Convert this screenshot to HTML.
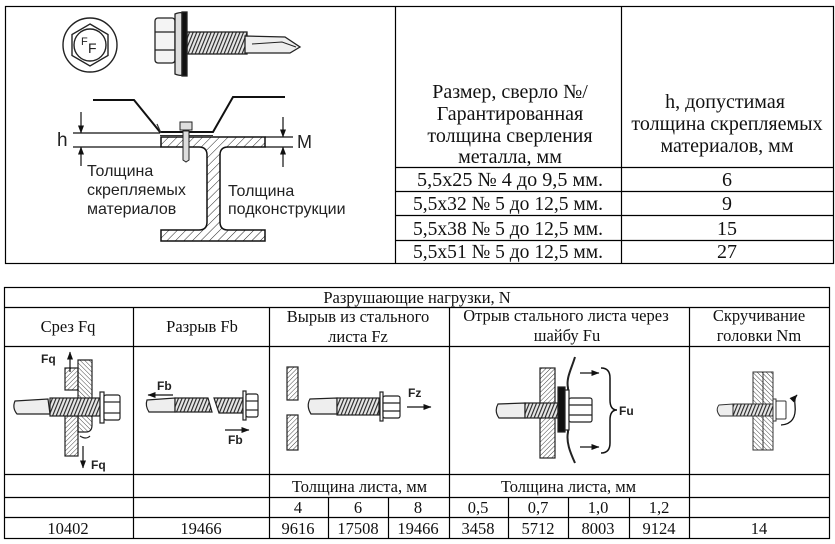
<!DOCTYPE html>
<html><head><meta charset="utf-8"><style>
html,body{margin:0;padding:0;background:#fff;}
svg{display:block;}
.s{font-family:"Liberation Serif","DejaVu Serif",serif;font-size:16.5px;fill:#111;}
.st{font-family:"Liberation Serif","DejaVu Serif",serif;font-size:20px;fill:#111;}
.a{font-family:"Liberation Sans","DejaVu Sans",sans-serif;fill:#222;}
.b{font-family:"Liberation Sans","DejaVu Sans",sans-serif;font-weight:bold;font-size:12px;fill:#222;}
</style></head><body>
<svg width="835" height="544" viewBox="0 0 835 544" xmlns="http://www.w3.org/2000/svg">
<defs>
<pattern id="hb" width="6" height="6" patternUnits="userSpaceOnUse" patternTransform="rotate(45)"><line x1="0" y1="0" x2="0" y2="6" stroke="#222" stroke-width="1"/></pattern>
<pattern id="h" width="3.2" height="3.2" patternUnits="userSpaceOnUse" patternTransform="rotate(45)"><line x1="0" y1="0" x2="0" y2="3.2" stroke="#333" stroke-width="0.9"/></pattern>
<pattern id="h2" width="3.2" height="3.2" patternUnits="userSpaceOnUse" patternTransform="rotate(-45)"><line x1="0" y1="0" x2="0" y2="3.2" stroke="#333" stroke-width="0.9"/></pattern>
<pattern id="t" width="3.6" height="40" patternUnits="userSpaceOnUse" patternTransform="skewX(-22)"><rect width="3.6" height="40" fill="#e6e6e6"/><line x1="1" y1="0" x2="1" y2="40" stroke="#222" stroke-width="1.2"/></pattern>
<marker id="ar" viewBox="0 0 8 6" markerWidth="8" markerHeight="6" refX="7.5" refY="3" orient="auto" markerUnits="userSpaceOnUse"><path d="M0,0 L8,3 L0,6 Z" fill="#111"/></marker>
</defs>

<!-- ============ TOP TABLE ============ -->
<g stroke="#000" stroke-width="1.2" fill="none">
<rect x="5.5" y="6.5" width="828" height="257"/>
<line x1="395.5" y1="6.5" x2="395.5" y2="263.5"/>
<line x1="621.5" y1="6.5" x2="621.5" y2="263.5"/>
<line x1="395.5" y1="167.5" x2="833.5" y2="167.5"/>
<line x1="395.5" y1="191.5" x2="833.5" y2="191.5"/>
<line x1="395.5" y1="215.5" x2="833.5" y2="215.5"/>
<line x1="395.5" y1="240.5" x2="833.5" y2="240.5"/>
</g>
<g class="st" text-anchor="middle">
<text x="510" y="98">Размер, сверло №/</text>
<text x="510" y="120">Гарантированная</text>
<text x="510" y="142">толщина сверления</text>
<text x="510" y="163">металла, мм</text>
<text x="725" y="108">h, допустимая</text>
<text x="727" y="130">толщина скрепляемых</text>
<text x="727" y="152">материалов, мм</text>
<text x="510" y="186" textLength="186" lengthAdjust="spacingAndGlyphs">5,5x25 № 4 до 9,5 мм.</text>
<text x="508" y="210" textLength="190" lengthAdjust="spacingAndGlyphs">5,5x32 № 5 до 12,5 мм.</text>
<text x="508" y="235" textLength="190" lengthAdjust="spacingAndGlyphs">5,5x38 № 5 до 12,5 мм.</text>
<text x="508" y="258" textLength="190" lengthAdjust="spacingAndGlyphs">5,5x51 № 5 до 12,5 мм.</text>
<text x="727" y="186">6</text>
<text x="727" y="210">9</text>
<text x="727" y="235">15</text>
<text x="727" y="258">27</text>
</g>

<!-- Head view -->
<g stroke="#222" stroke-width="1.4" fill="#fff">
<circle cx="90" cy="45" r="27"/>
<polygon points="90,24 108,34.5 108,55.5 90,66 72,55.5 72,34.5"/>
<circle cx="90" cy="45" r="16"/>
</g>
<text class="a" x="81" y="45" font-size="11">F</text>
<text class="a" x="88" y="53" font-size="14">F</text>

<!-- Side screw -->
<g stroke="#222" stroke-width="1.3">
<rect x="187" y="32" width="60" height="22" fill="url(#t)"/>
<path d="M245,36 L285,37 L300,47 L290,53 L245,53 Z" fill="#eee"/>
<path d="M252,44 L282,42 L296,47" fill="none" stroke-width="1"/>
<rect x="155" y="18" width="20" height="45" rx="3" fill="#f4f4f4"/>
<line x1="155" y1="32" x2="175" y2="32"/>
<line x1="155" y1="50" x2="175" y2="50"/>
<path d="M175,14 Q180,12 182,13 L182,75 Q180,76 175,74 Z" fill="#ddd"/>
<rect x="182" y="12" width="5" height="64" fill="#111"/>
</g>

<!-- profile sheet -->
<polyline points="93,100 134,100 160,132 213,132 233,97 285,97" fill="none" stroke="#111" stroke-width="2"/>
<line x1="160" y1="135.5" x2="213" y2="135.5" stroke="#333" stroke-width="1"/>
<line x1="157" y1="124" x2="161" y2="133" stroke="#333" stroke-width="1.2"/>
<!-- I-beam -->
<path d="M161,137 H265 V147 H228 Q220,147 220,155 V222 Q220,230 228,230 H265 V241 H161 V230 H199 Q207,230 207,222 V155 Q207,147 199,147 H161 Z" fill="url(#hb)" stroke="#111" stroke-width="1.5"/>
<!-- small screw -->
<rect x="180" y="122" width="12" height="8" fill="#ddd" stroke="#222" stroke-width="1"/>
<path d="M183,131 L189,131 L189,160 L186,162 L183,160 Z" fill="#ddd" stroke="#222" stroke-width="1"/>
<!-- dimensions -->
<g stroke="#111" stroke-width="1.2" fill="none">
<line x1="73" y1="133" x2="160" y2="133"/>
<line x1="73" y1="147" x2="161" y2="147"/>
<line x1="81" y1="112" x2="81" y2="133" marker-end="url(#ar)"/>
<line x1="81" y1="166" x2="81" y2="147" marker-end="url(#ar)"/>
<line x1="265" y1="137" x2="293" y2="137"/>
<line x1="265" y1="147" x2="293" y2="147"/>
<line x1="283" y1="117" x2="283" y2="137" marker-end="url(#ar)"/>
<line x1="283" y1="167" x2="283" y2="147" marker-end="url(#ar)"/>
</g>
<text class="a" x="57" y="146" font-size="19">h</text>
<text class="a" x="297" y="148" font-size="18">M</text>
<g class="a" font-size="16">
<text x="87" y="176">Толщина</text>
<text x="87" y="195">скрепляемых</text>
<text x="87" y="214">материалов</text>
<text x="228" y="196">Толщина</text>
<text x="228" y="214">подконструкции</text>
</g>

<!-- ============ BOTTOM TABLE ============ -->
<g stroke="#000" stroke-width="1.2" fill="none">
<rect x="4.5" y="287.5" width="825" height="251"/>
<line x1="4.5" y1="307.5" x2="829.5" y2="307.5"/>
<line x1="4.5" y1="346.5" x2="829.5" y2="346.5"/>
<line x1="4.5" y1="474.5" x2="829.5" y2="474.5"/>
<line x1="4.5" y1="497.5" x2="829.5" y2="497.5"/>
<line x1="4.5" y1="517.5" x2="829.5" y2="517.5"/>
<line x1="133.5" y1="307.5" x2="133.5" y2="538.5"/>
<line x1="269.5" y1="307.5" x2="269.5" y2="538.5"/>
<line x1="449.5" y1="307.5" x2="449.5" y2="538.5"/>
<line x1="689.5" y1="307.5" x2="689.5" y2="538.5"/>
<line x1="328.5" y1="497.5" x2="328.5" y2="538.5"/>
<line x1="388.5" y1="497.5" x2="388.5" y2="538.5"/>
<line x1="508.5" y1="497.5" x2="508.5" y2="538.5"/>
<line x1="568.5" y1="497.5" x2="568.5" y2="538.5"/>
<line x1="629.5" y1="497.5" x2="629.5" y2="538.5"/>
</g>
<g class="s" text-anchor="middle">
<text x="417" y="303">Разрушающие нагрузки, N</text>
<text x="68" y="332">Срез Fq</text>
<text x="202" y="332">Разрыв Fb</text>
<text x="358" y="322">Вырыв из стального</text>
<text x="358" y="342">листа Fz</text>
<text x="566" y="321">Отрыв стального листа через</text>
<text x="567" y="341">шайбу Fu</text>
<text x="759" y="321">Скручивание</text>
<text x="759" y="341">головки Nm</text>
<text x="359.5" y="492">Толщина листа, мм</text>
<text x="568.5" y="492">Толщина листа, мм</text>
<text x="298" y="513">4</text>
<text x="358" y="513">6</text>
<text x="418" y="513">8</text>
<text x="478" y="513">0,5</text>
<text x="538" y="513">0,7</text>
<text x="598" y="513">1,0</text>
<text x="659" y="513">1,2</text>
<text x="68" y="534">10402</text>
<text x="201" y="534">19466</text>
<text x="298" y="534">9616</text>
<text x="358" y="534">17508</text>
<text x="418" y="534">19466</text>
<text x="478" y="534">3458</text>
<text x="538" y="534">5712</text>
<text x="598" y="534">8003</text>
<text x="659" y="534">9124</text>
<text x="759" y="534">14</text>
</g>

<!-- Cell 1: Срез -->
<g stroke="#222" stroke-width="1.2">
<rect x="65" y="368" width="13" height="22" fill="url(#h)"/>
<rect x="65" y="416" width="13" height="40" fill="url(#h)"/>
<path d="M78,360 H92 V425 Q92,432 86,432 L78,432 Z" fill="url(#h2)"/>
<path d="M80,436 Q86,440 90,436" fill="none"/>
<path d="M15,401 L48,399 L50,414 L17,414 Q12,408 15,401 Z" fill="#eee"/>
<rect x="50" y="398" width="50" height="18" fill="url(#t)"/>
<rect x="100" y="392" width="4" height="31" fill="#fff"/>
<rect x="104" y="395" width="16" height="25" rx="2" fill="#fff"/>
<line x1="104" y1="402" x2="120" y2="402"/>
<line x1="104" y1="413" x2="120" y2="413"/>
<line x1="70" y1="372" x2="70" y2="352" marker-end="url(#ar)" stroke="#111"/>
<line x1="83" y1="446" x2="83" y2="468" marker-end="url(#ar)" stroke="#111"/>
</g>
<text class="b" x="41" y="363">Fq</text>
<text class="b" x="91" y="469">Fq</text>

<!-- Cell 2: Разрыв -->
<g stroke="#222" stroke-width="1.2">
<path d="M147,400 L175,398 L175,412 L149,412 Q145,406 147,400 Z" fill="#eee"/>
<path d="M175,398 L208,398 L212,412 L175,412 Z" fill="url(#t)"/>
<path d="M214,398 L243,398 L243,413 L219,413 Z" fill="url(#t)"/>
<rect x="243" y="391" width="3" height="29" fill="#fff"/>
<rect x="246" y="394" width="12" height="23" rx="2" fill="#fff"/>
<line x1="246" y1="401" x2="258" y2="401"/>
<line x1="246" y1="410" x2="258" y2="410"/>
<line x1="173" y1="395" x2="148" y2="395" marker-end="url(#ar)" stroke="#111"/>
<line x1="225" y1="430" x2="249" y2="430" marker-end="url(#ar)" stroke="#111"/>
</g>
<text class="b" x="157" y="390" font-size="11">Fb</text>
<text class="b" x="228" y="444" font-size="11">Fb</text>

<!-- Cell 3: Вырыв -->
<g stroke="#222" stroke-width="1.2">
<rect x="287" y="367" width="11" height="33" fill="url(#h)"/>
<rect x="287" y="415" width="11" height="35" fill="url(#h)"/>
<path d="M310,399 L337,398 L337,414 L311,414 Q306,406 310,399 Z" fill="#eee"/>
<rect x="337" y="398" width="42" height="17" fill="url(#t)"/>
<rect x="380" y="392" width="3" height="29" fill="#fff"/>
<rect x="383" y="396" width="17" height="22" rx="2" fill="#fff"/>
<line x1="383" y1="403" x2="400" y2="403"/>
<line x1="383" y1="411" x2="400" y2="411"/>
<line x1="407" y1="407" x2="431" y2="407" marker-end="url(#ar)" stroke="#111"/>
</g>
<text class="b" x="408" y="397">Fz</text>

<!-- Cell 4: Отрыв -->
<g stroke="#222" stroke-width="1.2">
<rect x="540" y="368" width="15" height="90" fill="url(#h)"/>
<path d="M575,357 C571,370 566,378 568,388 L568,432 C566,442 570,452 575,463" fill="none" stroke-width="2"/>
<path d="M498,404 L525,403 L525,418 L499,418 Q494,411 498,404 Z" fill="#eee"/>
<rect x="525" y="403" width="33" height="15" fill="url(#t)"/>
<rect x="558" y="387" width="7" height="45" fill="#111"/>
<rect x="565" y="390" width="4" height="40" fill="#fff"/>
<rect x="569" y="398" width="23" height="24" rx="2" fill="#fff"/>
<line x1="569" y1="405" x2="592" y2="405"/>
<line x1="569" y1="415" x2="592" y2="415"/>
<line x1="580" y1="373" x2="599" y2="373" marker-end="url(#ar)" stroke="#111"/>
<line x1="580" y1="447" x2="599" y2="447" marker-end="url(#ar)" stroke="#111"/>
<path d="M601,368 Q610,368 610,378 L610,400 Q610,410 617,410 Q610,410 610,420 L610,443 Q610,453 601,453" fill="none" stroke="#111" stroke-width="1.5"/>
</g>
<text class="b" x="619" y="415">Fu</text>

<!-- Cell 5: Скручивание -->
<g stroke="#333" stroke-width="1">
<rect x="753" y="372" width="20" height="78" fill="url(#h2)"/>
<line x1="763" y1="372" x2="763" y2="450"/>
<path d="M719,405 L733,404 L733,416 L720,416 Q715,410 719,405 Z" fill="#eee"/>
<rect x="733" y="404" width="40" height="12" fill="url(#t)"/>
<rect x="773" y="399" width="3" height="22" fill="#fff"/>
<rect x="776" y="401" width="10" height="18" rx="1" fill="#fff"/>
<path d="M781,425 Q797,424 795,405 Q794,398 797,395" fill="none" stroke="#111" stroke-width="1.3" marker-end="url(#ar)"/>
</g>
</svg>
</body></html>
